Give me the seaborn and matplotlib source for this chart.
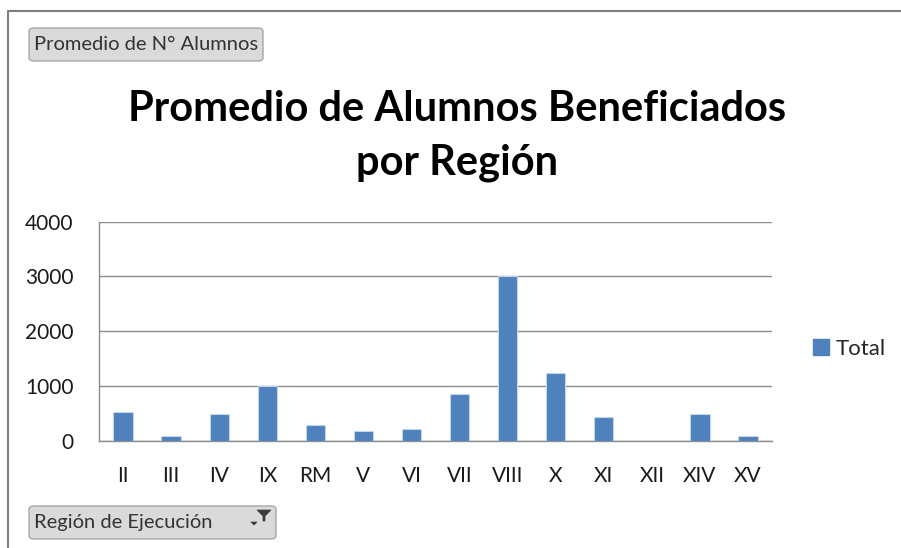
import numpy as np
import matplotlib
matplotlib.use("Agg")
import matplotlib.pyplot as plt
import seaborn as sns
from matplotlib.patches import FancyBboxPatch, Polygon, Rectangle
from matplotlib.lines import Line2D

# data
regiones = ["II", "III", "IV", "IX", "RM", "V", "VI", "VII", "VIII", "X", "XI", "XII", "XIV", "XV"]
promedio = [518, 91, 494, 990, 293, 183, 207, 848, 3000, 1244, 427, 0, 494, 91]
y_ticks = [0, 1000, 2000, 3000, 4000]

bar_color = "#4F81BD"
grid_color = "#8C8C8C"

sns.set_theme(style="white")
plt.rcParams["font.family"] = ["Lato", "DejaVu Sans"]

fig = plt.figure(figsize=(9.01, 5.48), dpi=100)
ax = fig.add_axes([99 / 901, 1 - 440.7 / 548, (772 - 99) / 901, (440.7 - 221.7) / 548])

sns.barplot(x=regiones, y=promedio, color=bar_color, width=0.4, saturation=1,
            edgecolor="#C6D6EA", linewidth=0.8, ax=ax, zorder=3)

ax.set_ylim(0, 4000)
ax.set_xlim(-0.5, len(regiones) - 0.5)
ax.set_yticks(y_ticks)
ax.set_yticklabels([str(t) for t in y_ticks], fontsize=15, color="#1a1a1a")
ax.tick_params(axis="x", which="major", length=0, pad=18, labelsize=15, labelcolor="#1a1a1a")
ax.set_xticks(np.arange(-0.5, len(regiones)), minor=True)
ax.tick_params(axis="x", which="minor", length=6, width=1, color=grid_color, direction="out")
ax.tick_params(axis="y", length=6.5, width=1, color=grid_color, direction="out", pad=12)
ax.grid(axis="y", color=grid_color, linewidth=1, zorder=0)
ax.set_axisbelow(True)
ax.set_xlabel("")
ax.set_ylabel("")
for side in ["top", "right"]:
    ax.spines[side].set_visible(False)
for side in ["left", "bottom"]:
    ax.spines[side].set_color(grid_color)
    ax.spines[side].set_linewidth(1)

# legend on the right
handles = [Rectangle((0, 0), 1, 1, color=bar_color)]
fig.legend(handles, ["Total"], loc="center left", bbox_to_anchor=(793 / 901, 1 - 349 / 548),
           frameon=False, fontsize=16, handlelength=0.7, handleheight=0.7, handletextpad=0.3)

# title
fig.text(457 / 901, 1 - 136 / 548, "Promedio de Alumnos Beneficiados\npor Región",
         ha="center", va="center", fontsize=30, fontweight="bold", linespacing=1.5,
         color="black")

# outer frame lines (top and left)
fig.add_artist(Line2D([8 / 901, 1], [1 - 11 / 548, 1 - 11 / 548], color="#7f7f7f", lw=1.5))
fig.add_artist(Line2D([8 / 901, 8 / 901], [0, 1 - 11 / 548], color="#7f7f7f", lw=1.5))

# pivot field buttons
def field_button(x0, y0, w, h, text):
    box = FancyBboxPatch((x0 / 901, 1 - (y0 + h) / 548), w / 901, h / 548,
                         boxstyle="round,pad=0,rounding_size=0.006",
                         transform=fig.transFigure, facecolor="#DADADA",
                         edgecolor="#A6A6A6", lw=1)
    fig.add_artist(box)
    fig.text((x0 + 5) / 901, 1 - (y0 + h / 2) / 548, text, ha="left", va="center",
             fontsize=14.5, color="#333333")

field_button(29, 28, 234, 33, "Promedio de N° Alumnos")
field_button(29, 506, 247, 33, "Región de Ejecución")

# filter icon on the second button
funnel = Polygon([(257 / 901, 1 - 510 / 548), (271 / 901, 1 - 510 / 548),
                  (265 / 901, 1 - 516 / 548), (265 / 901, 1 - 521 / 548),
                  (263 / 901, 1 - 521 / 548), (263 / 901, 1 - 516 / 548)],
                 closed=True, transform=fig.transFigure, facecolor="#3a3a3a", edgecolor="#3a3a3a", lw=0.5)
fig.add_artist(funnel)
arrow = Polygon([(251 / 901, 1 - 522 / 548), (257 / 901, 1 - 522 / 548), (254 / 901, 1 - 525 / 548)],
                closed=True, transform=fig.transFigure, facecolor="#3a3a3a", edgecolor="#3a3a3a", lw=0.5)
fig.add_artist(arrow)

fig.savefig("out.png", dpi=100)
